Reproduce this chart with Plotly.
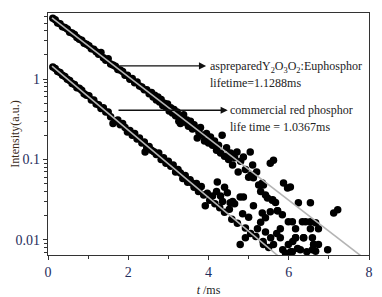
import plotly.graph_objects as go

# As-prepared Y2O3O2:Eu phosphor (t in ms, intensity a.u.)
upper_t = [0.12, 0.18, 0.24, 0.30, 0.36, 0.42, 0.48, 0.54, 0.60, 0.66, 0.72, 0.78, 0.84, 0.90, 0.96,
           1.02, 1.08, 1.14, 1.20, 1.26, 1.32, 1.38, 1.44, 1.50, 1.56, 1.62, 1.68, 1.74, 1.80, 1.86,
           1.92, 1.98, 2.04, 2.10, 2.16, 2.22, 2.28, 2.34, 2.40, 2.46, 2.52,
           2.58, 2.62, 2.66, 2.70, 2.74, 2.78, 2.82, 2.86, 2.90, 2.94, 2.98, 3.02, 3.06, 3.10, 3.14,
           3.18, 3.22, 3.26, 3.30, 3.34, 3.38, 3.42, 3.46, 3.50, 3.55, 3.60, 3.64, 3.67, 3.72, 3.76,
           3.80, 3.85, 3.90, 3.95, 4.00, 4.05, 4.10, 4.15, 4.20, 4.25, 4.30, 4.34, 4.40, 4.45, 4.50,
           4.55, 4.60, 4.65, 4.71, 4.74, 4.80, 4.87, 4.92, 5.04, 5.00, 5.12, 5.10, 5.20, 5.25, 5.34,
           5.37, 5.42, 5.47, 5.54, 5.62, 5.59, 5.67, 5.72, 5.79, 5.84, 5.87, 5.97, 6.04, 6.09, 5.99,
           6.17, 6.24, 6.34, 6.42, 6.54, 6.54, 6.59, 6.67, 6.74, 7.12, 7.22, 6.97, 6.62,
           5.06, 5.60, 5.30, 6.37, 6.17, 6.54]
upper_v = [5.75, 5.5, 5.0, 4.9, 4.5, 4.4, 4.2, 3.85, 3.75, 3.6, 3.3, 3.15, 3.05, 2.8, 2.72,
           2.6, 2.4, 2.35, 2.2, 2.05, 2.15, 1.85, 1.72, 1.8, 1.55, 1.5, 1.45, 1.32, 1.3, 1.25,
           1.12, 1.12, 1.0, 1.02, 0.9, 0.92, 0.82, 0.8, 0.74, 0.74, 0.66,
           0.68, 0.60, 0.63, 0.55, 0.60, 0.52, 0.56, 0.47, 0.50, 0.45, 0.49, 0.40, 0.44, 0.38, 0.42,
           0.35, 0.39, 0.30, 0.28, 0.33, 0.36, 0.29, 0.31, 0.26, 0.30, 0.24, 0.27, 0.246, 0.185, 0.22,
           0.25, 0.20, 0.17, 0.21, 0.16, 0.19, 0.15, 0.17, 0.13, 0.15, 0.12, 0.20, 0.11, 0.14, 0.10,
           0.12, 0.085, 0.105, 0.124, 0.07, 0.095, 0.107, 0.075, 0.124, 0.06, 0.059, 0.085, 0.070, 0.048, 0.051,
           0.048, 0.036, 0.033, 0.09, 0.098, 0.031, 0.029, 0.023, 0.0137, 0.0205, 0.051, 0.044, 0.0455, 0.0167, 0.0167,
           0.0137, 0.0288, 0.0167, 0.0167, 0.0288, 0.0167, 0.0106, 0.0163, 0.0137, 0.0216, 0.0236, 0.0075, 0.0087,
           0.064, 0.0314, 0.040, 0.0106, 0.0106, 0.0137]

# Commercial red phosphor
lower_t = [0.12, 0.18, 0.24, 0.30, 0.36, 0.42, 0.48, 0.54, 0.60, 0.66, 0.72, 0.78, 0.84, 0.90, 0.96,
           1.02, 1.08, 1.14, 1.20, 1.26, 1.32, 1.38, 1.44, 1.50, 1.56, 1.62, 1.68, 1.74, 1.80, 1.86,
           1.92, 1.98, 2.04, 2.10, 2.16, 2.22, 2.28, 2.34, 2.40, 2.46, 2.52,
           2.42, 2.58, 2.64, 2.70, 2.76, 2.82, 2.88, 2.94, 3.00, 3.06, 3.12, 3.18, 3.24, 3.30, 3.36,
           3.42, 3.48, 3.54, 3.59, 3.64, 3.70, 3.76, 3.82, 3.88, 3.92, 3.97, 4.03, 4.10, 4.16, 4.22,
           4.28, 4.35, 4.40, 4.47, 4.52, 4.58, 4.65, 4.72, 4.79, 4.85, 4.92, 5.00, 5.05, 5.12, 5.18,
           5.22, 5.30, 5.36, 5.42, 5.50, 5.55, 5.62, 5.70, 5.79, 5.85, 5.92, 5.99, 6.05, 6.10, 6.17,
           6.22, 6.29, 6.37, 6.45, 6.59, 6.67, 6.74, 4.87,
           5.34, 5.54, 5.72, 5.42, 4.92, 4.79, 5.37, 6.09, 6.62, 4.20, 4.30, 4.60, 4.40, 4.54, 3.75]
lower_v = [1.42, 1.36, 1.25, 1.21, 1.12, 1.08, 1.0, 0.96, 0.88, 0.86, 0.78, 0.77, 0.73, 0.66, 0.63,
           0.62, 0.55, 0.55, 0.49, 0.48, 0.43, 0.44, 0.39, 0.39, 0.34, 0.28, 0.30, 0.31, 0.27, 0.28,
           0.25, 0.22, 0.23, 0.20, 0.21, 0.18, 0.185, 0.16, 0.165, 0.14, 0.145,
           0.124, 0.13, 0.125, 0.115, 0.12, 0.10, 0.105, 0.09, 0.095, 0.082, 0.085, 0.07, 0.075, 0.068, 0.058,
           0.063, 0.052, 0.056, 0.051, 0.045, 0.05, 0.042, 0.046, 0.036, 0.0265, 0.038, 0.031, 0.035, 0.028, 0.0525,
           0.025, 0.03, 0.022, 0.0385, 0.024, 0.018, 0.028, 0.016, 0.034, 0.021, 0.014, 0.019, 0.012, 0.0265, 0.011,
           0.0137, 0.0165, 0.0095, 0.0125, 0.008, 0.0106, 0.0087, 0.012, 0.0106, 0.0075, 0.0068, 0.0087, 0.0071, 0.0095, 0.0106,
           0.0078, 0.0075, 0.0106, 0.0071, 0.0075, 0.0072, 0.0087, 0.034,
           0.0216, 0.0223, 0.0229, 0.0188, 0.0106, 0.0087, 0.0087, 0.0071, 0.0087, 0.040, 0.035, 0.030, 0.045, 0.0288, 0.040]

# Single-exponential fit lines (endpoints)
fit_upper_t = [0.1, 7.8]
fit_upper_v = [5.8, 0.0063]
fit_lower_t = [0.1, 5.8]
fit_lower_v = [1.45, 0.0059]

x_ticks = [0, 2, 4, 6, 8]
y_ticks = [0.01, 0.1, 1]
y_tick_text = ["0.01", "0.1", "1"]
y_minor = [0.007, 0.008, 0.009, 0.02, 0.03, 0.04, 0.05, 0.06, 0.07, 0.08, 0.09,
           0.2, 0.3, 0.4, 0.5, 0.6, 0.7, 0.8, 0.9, 2, 3, 4, 5, 6]

label_upper = ["aspreparedY<sub>2</sub>O<sub>3</sub>O<sub>2</sub>:Euphosphor", "lifetime=1.1288ms"]
label_lower = ["commercial red phosphor", "life time = 1.0367ms"]

FONT = "Liberation Serif"
TICKCOL = "#1f2d5c"

fig = go.Figure()
marker = dict(color="black", size=7.5, symbol="circle")
fig.add_trace(go.Scatter(x=upper_t, y=upper_v, mode="markers", marker=marker, showlegend=False))
fig.add_trace(go.Scatter(x=lower_t, y=lower_v, mode="markers", marker=marker, showlegend=False))
fig.add_trace(go.Scatter(x=fit_upper_t, y=fit_upper_v, mode="lines",
                         line=dict(color="#b4b4b4", width=1.6), showlegend=False))
fig.add_trace(go.Scatter(x=fit_lower_t, y=fit_lower_v, mode="lines",
                         line=dict(color="#b4b4b4", width=1.6), showlegend=False))

# arrows (log axis: y in log10 units)
arrow_kw = dict(xref="x", yref="y", axref="x", ayref="y", text="", showarrow=True,
                arrowhead=2, arrowsize=1.1, arrowwidth=1.3, arrowcolor="#111")
fig.add_annotation(x=3.94, y=0.165, ax=1.72, ay=0.165, **arrow_kw)
fig.add_annotation(x=4.48, y=-0.387, ax=1.72, ay=-0.387, **arrow_kw)

txt_kw = dict(xref="x", yref="y", showarrow=False, xanchor="left", yanchor="middle",
              font=dict(family=FONT, size=12, color="#222"))
fig.add_annotation(x=3.98, y=0.148, text=label_upper[0], **txt_kw)
fig.add_annotation(x=3.98, y=-0.05, text=label_upper[1], **txt_kw)
fig.add_annotation(x=4.48, y=-0.387, text=label_lower[0], **txt_kw)
fig.add_annotation(x=4.48, y=-0.59, text=label_lower[1], **txt_kw)

# page body has an 8px margin: figure is offset by (8, 8)
fig.update_layout(
    width=374, height=289,
    margin=dict(l=40, r=13, t=5, b=42),
    paper_bgcolor="white", plot_bgcolor="white",
    font=dict(family=FONT, size=13, color=TICKCOL),
    xaxis=dict(range=[0, 8], tickvals=x_ticks, ticks="outside", ticklen=4, tickcolor="#333",
               automargin=False,
               showline=True, linecolor="#333", linewidth=1.2, mirror=True, showgrid=False, zeroline=False,
               minor=dict(tickvals=[1, 3, 5, 7], ticks="outside", ticklen=3, tickcolor="#333"),
               tickfont=dict(family=FONT, size=14, color=TICKCOL),
               title=dict(text="<i>t</i> /ms", font=dict(family=FONT, size=12, color="#222"), standoff=8)),
    yaxis=dict(type="log", range=[-2.19, 0.824], tickvals=y_ticks, ticktext=y_tick_text,
               ticks="outside", ticklen=4, tickcolor="#333", automargin=False,
               showline=True, linecolor="#333", linewidth=1.2, mirror=True, showgrid=False, zeroline=False,
               minor=dict(tickvals=y_minor, ticks="outside", ticklen=2.5, tickcolor="#333"),
               tickfont=dict(family=FONT, size=14, color=TICKCOL),
               title=dict(text="Intensity(a.u.)", font=dict(family=FONT, size=12, color="#3a2a1a"), standoff=6)),
)

fig.write_html("out.html")
